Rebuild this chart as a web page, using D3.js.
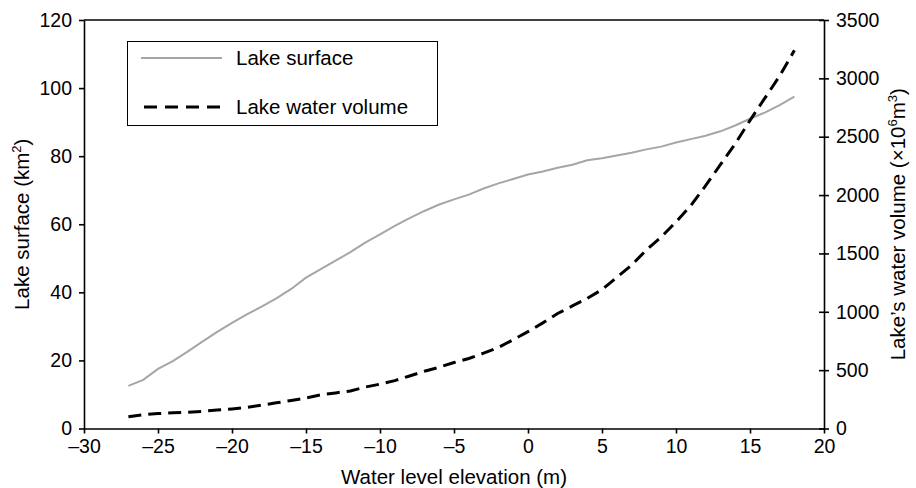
<!DOCTYPE html>
<html>
<head>
<meta charset="utf-8">
<script src="https://cdn.jsdelivr.net/npm/d3@7"></script>
<style>
  body { margin: 0; background: #fff; }
  text { font-family: "Liberation Sans", Arial, sans-serif; }
</style>
</head>
<body>
<div id="chart"></div>
<script>
var width = 916,
    height = 488;

var margin = { top: 20, right: 92, bottom: 59.5, left: 84 };

// water level elevation (m)
var elevation = [-27, -26, -25, -24, -23, -22, -21, -20, -19, -18, -17, -16, -15, -14, -13, -12,
    -11, -10, -9, -8, -7, -6, -5, -4, -3, -2, -1, 0, 1, 2, 3, 4, 5, 6, 7, 8, 9, 10, 11, 12, 13,
    14, 15, 16, 17, 18];
// lake surface (km2)
var surface = [12.5, 14.3, 17.5, 19.8, 22.6, 25.5, 28.4, 31.0, 33.5, 35.8, 38.2, 41.0, 44.3, 46.8,
    49.3, 51.8, 54.6, 57.0, 59.5, 61.8, 63.9, 65.8, 67.3, 68.7, 70.5, 72.0, 73.3, 74.6, 75.5, 76.6,
    77.5, 78.8, 79.4, 80.2, 81.0, 82.0, 82.8, 84.0, 85.0, 86.0, 87.3, 89.0, 91.0, 92.8, 95.0, 97.5];
// lake water volume (x10^6 m3)
var volume = [100, 118, 128, 135, 140, 147, 158, 168, 180, 200, 220, 240, 262, 288, 305, 322,
    355, 380, 410, 450, 490, 525, 565, 600, 645, 695, 760, 830, 905, 985, 1050, 1115, 1190, 1295,
    1400, 1530, 1640, 1770, 1910, 2080, 2260, 2440, 2640, 2830, 3020, 3240];

var xTicks = [-30, -25, -20, -15, -10, -5, 0, 5, 10, 15, 20];
var leftTicks = [0, 20, 40, 60, 80, 100, 120];
var rightTicks = [0, 500, 1000, 1500, 2000, 2500, 3000, 3500];

var svg = d3.select("#chart").append("svg")
    .attr("width", width)
    .attr("height", height);

var x = d3.scaleLinear().domain([-30, 20]).range([margin.left, width - margin.right]);
var yL = d3.scaleLinear().domain([0, 120]).range([height - margin.bottom, margin.top]);
var yR = d3.scaleLinear().domain([0, 3500]).range([height - margin.bottom, margin.top]);

function styleAxis(g) {
    g.selectAll(".domain").attr("stroke", "#000").attr("stroke-width", 1.6);
    g.selectAll(".tick line").attr("stroke", "#000").attr("stroke-width", 1.6);
    g.selectAll(".tick text")
        .attr("fill", "#000")
        .style("font-size", "19.5px")
        .style("font-family", "'Liberation Sans', Arial, sans-serif");
}

var fmt = function (d) { return d < 0 ? "\u2013" + Math.abs(d) : String(d); };

// top border
svg.append("line")
    .attr("x1", x(-30)).attr("x2", x(20))
    .attr("y1", yL(120)).attr("y2", yL(120))
    .attr("stroke", "#000").attr("stroke-width", 1.6);

var gx = svg.append("g")
    .attr("transform", "translate(0," + yL(0) + ")")
    .call(d3.axisBottom(x).tickValues(xTicks).tickFormat(fmt).tickSize(5).tickSizeOuter(0).tickPadding(6))
    .call(styleAxis);

var gyl = svg.append("g")
    .attr("transform", "translate(" + x(-30) + ",0)")
    .call(d3.axisLeft(yL).tickValues(leftTicks).tickSize(5).tickSizeOuter(0).tickPadding(7))
    .call(styleAxis);

var gyr = svg.append("g")
    .attr("transform", "translate(" + x(20) + ",0)")
    .call(d3.axisRight(yR).tickValues(rightTicks).tickFormat(d3.format("d"))
        .tickSize(5).tickSizeOuter(0).tickPadding(7))
    .call(styleAxis);
gyr.selectAll(".tick line").attr("x1", -5);

// lines
var surfLine = d3.line()
    .x(function (d, i) { return x(elevation[i]); })
    .y(function (d) { return yL(d); });
var volLine = d3.line()
    .x(function (d, i) { return x(elevation[i]); })
    .y(function (d) { return yR(d); });

svg.append("path")
    .datum(surface)
    .attr("d", surfLine)
    .attr("fill", "none")
    .attr("stroke", "#a6a6a6")
    .attr("stroke-width", 2);

svg.append("path")
    .datum(volume)
    .attr("d", volLine)
    .attr("fill", "none")
    .attr("stroke", "#000")
    .attr("stroke-width", 3)
    .attr("stroke-dasharray", "13,7");

// legend
var lg = svg.append("g");
lg.append("rect")
    .attr("x", 127.5).attr("y", 41.5)
    .attr("width", 310).attr("height", 84)
    .attr("fill", "#fff").attr("stroke", "#000").attr("stroke-width", 1);
lg.append("line")
    .attr("x1", 141).attr("x2", 222).attr("y1", 58).attr("y2", 58)
    .attr("stroke", "#a6a6a6").attr("stroke-width", 2);
lg.append("line")
    .attr("x1", 144).attr("x2", 222).attr("y1", 107).attr("y2", 107)
    .attr("stroke", "#000").attr("stroke-width", 3)
    .attr("stroke-dasharray", "13,8");
lg.append("text").attr("x", 236).attr("y", 65)
    .style("font-size", "20.5px").text("Lake surface");
lg.append("text").attr("x", 236).attr("y", 114)
    .style("font-size", "20.5px").text("Lake water volume");

// axis titles
svg.append("text")
    .attr("x", (x(-30) + x(20)) / 2)
    .attr("y", 484)
    .attr("text-anchor", "middle")
    .style("font-size", "20.5px")
    .text("Water level elevation (m)");

var tl = svg.append("text")
    .attr("transform", "translate(29," + (yL(60)) + ") rotate(-90)")
    .attr("text-anchor", "middle")
    .style("font-size", "20.5px");
tl.append("tspan").text("Lake surface (km");
tl.append("tspan").attr("dy", -8).style("font-size", "13px").text("2");
tl.append("tspan").attr("dy", 8).text(")");

var tr = svg.append("text")
    .attr("transform", "translate(905," + (yR(1750)) + ") rotate(-90)")
    .attr("text-anchor", "middle")
    .style("font-size", "20.5px");
tr.append("tspan").text("Lake\u2019s water volume (\u00d710");
tr.append("tspan").attr("dy", -8).style("font-size", "13px").text("6");
tr.append("tspan").attr("dy", 8).text("m");
tr.append("tspan").attr("dy", -8).style("font-size", "13px").text("3");
tr.append("tspan").attr("dy", 8).text(")");
</script>
</body>
</html>
